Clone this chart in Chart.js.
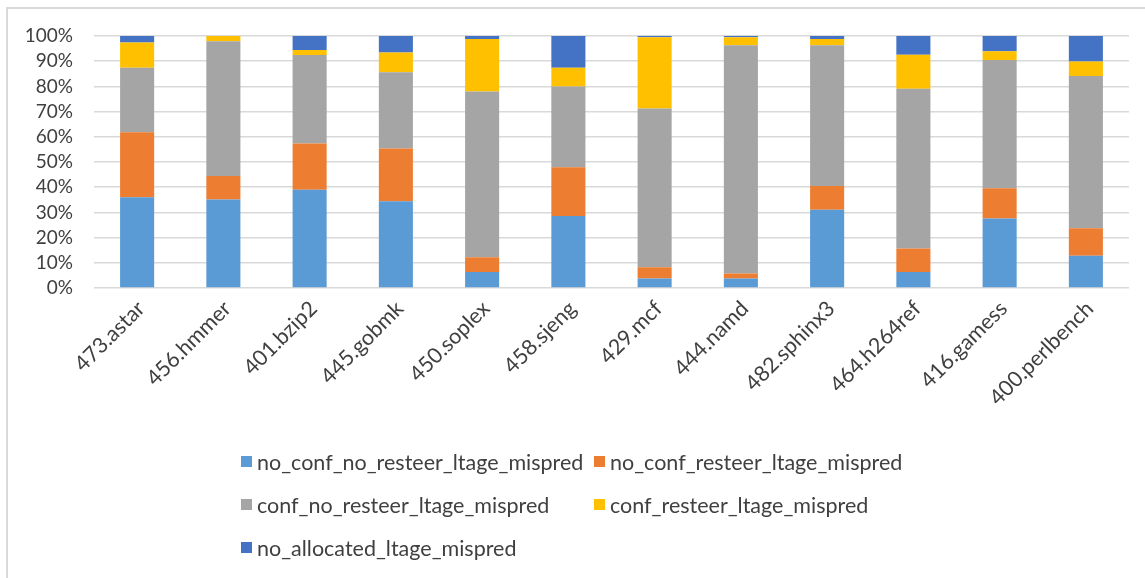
<!DOCTYPE html>
<html>
<head>
<meta charset="utf-8">
<script src="https://cdn.jsdelivr.net/npm/chart.js@4/dist/chart.umd.min.js"></script>
<style>
  html, body { margin: 0; padding: 0; background: #fff; }
  #wrap { position: relative; width: 1145px; height: 578px; overflow: hidden; background: #fff; }
  #frame { position: absolute; left: 6px; top: 7px; width: 1200px; height: 640px;
           border-left: 2px solid #d9d9d9; border-top: 2px solid #d9d9d9; box-sizing: border-box; }
  #chart { position: absolute; left: 0; top: 0; }
  #legend { position: absolute; left: 241px; top: 440px; display: grid;
            grid-template-columns: 353px 320px; grid-auto-rows: 43px;
            font-family: Lato, "Liberation Sans", sans-serif; font-size: 21.5px; color: #404040; }
  #legend .item { display: flex; align-items: center; height: 43px; white-space: nowrap; }
  #legend .box { width: 11px; height: 11px; margin-right: 5px; flex: none; }
</style>
</head>
<body>
<div id="wrap">
  <div id="frame"></div>
  <canvas id="chart" width="1145" height="578"></canvas>
  <div id="legend"></div>
</div>
<script>
// Benchmarks along the x axis
const benchmarks = ['473.astar', '456.hmmer', '401.bzip2', '445.gobmk', '450.soplex', '458.sjeng',
                    '429.mcf', '444.namd', '482.sphinx3', '464.h264ref', '416.gamess', '400.perlbench'];

// Share of LTAGE mispredictions per category (percent of total)
const noConfNoResteer = [36.0, 35.1, 39.0, 34.4, 6.3, 28.6, 3.8, 3.8, 31.1, 6.3, 27.6, 12.8];
const noConfResteer   = [25.8, 9.3, 18.3, 21.0, 5.9, 19.3, 4.4, 2.0, 9.4, 9.4, 12.0, 10.9];
const confNoResteer   = [25.6, 53.5, 35.2, 30.2, 65.8, 32.1, 63.0, 90.5, 55.8, 63.4, 50.9, 60.4];
const confResteer     = [10.0, 2.1, 1.9, 7.9, 20.8, 7.4, 28.3, 3.2, 2.5, 13.5, 3.4, 5.8];
const noAllocated     = [2.6, 0.0, 5.6, 6.5, 1.2, 12.6, 0.5, 0.5, 1.2, 7.4, 6.1, 10.1];

// Y axis tick values
const yTicks = [0, 10, 20, 30, 40, 50, 60, 70, 80, 90, 100];

const seriesNames = ['no_conf_no_resteer_ltage_mispred', 'no_conf_resteer_ltage_mispred',
                     'conf_no_resteer_ltage_mispred', 'conf_resteer_ltage_mispred',
                     'no_allocated_ltage_mispred'];
const seriesColors = ['#5B9BD5', '#ED7D31', '#A5A5A5', '#FFC000', '#4472C4'];
const seriesValues = [noConfNoResteer, noConfResteer, confNoResteer, confResteer, noAllocated];

const FONT = 'Lato, "Liberation Sans", sans-serif';
const TEXT = '#404040';

// Legend rendered as HTML in a two-column grid
const htmlLegend = {
  id: 'htmlLegend',
  afterUpdate(chart) {
    const box = document.getElementById('legend');
    box.innerHTML = '';
    chart.data.datasets.forEach(ds => {
      const item = document.createElement('div');
      item.className = 'item';
      const sw = document.createElement('span');
      sw.className = 'box';
      sw.style.background = ds.backgroundColor;
      const tx = document.createElement('span');
      tx.textContent = ds.label;
      item.appendChild(sw);
      item.appendChild(tx);
      box.appendChild(item);
    });
  }
};

new Chart(document.getElementById('chart'), {
  type: 'bar',
  data: {
    labels: benchmarks,
    datasets: seriesNames.map((name, i) => ({
      label: name,
      data: seriesValues[i],
      backgroundColor: seriesColors[i],
      borderWidth: 0,
      categoryPercentage: 1,
      barPercentage: 0.395
    }))
  },
  options: {
    responsive: false,
    animation: false,
    devicePixelRatio: 1,
    layout: { padding: { top: 36, right: 16, left: 0, bottom: 0 } },
    plugins: { legend: { display: false }, tooltip: { enabled: false } },
    scales: {
      x: {
        stacked: true,
        grid: { display: false },
        border: { display: false },
        ticks: { minRotation: 45, maxRotation: 45, autoSkip: false, color: TEXT,
                 font: { family: FONT, size: 21.5 }, padding: 0, labelOffset: 4 },
        afterFit(scale) { scale.height = 290; }
      },
      y: {
        stacked: true,
        min: 0,
        max: 100,
        afterBuildTicks(scale) { scale.ticks = yTicks.map(v => ({ value: v })); },
        ticks: { autoSkip: false, stepSize: 10, callback: v => v + '%', color: TEXT,
                 font: { family: FONT, size: 19 }, padding: 21 },
        grid: { color: '#d9d9d9', lineWidth: 1.5, drawTicks: false },
        border: { display: false },
        afterFit(scale) { scale.width = 94; }
      }
    }
  },
  plugins: [htmlLegend]
});
</script>
</body>
</html>
